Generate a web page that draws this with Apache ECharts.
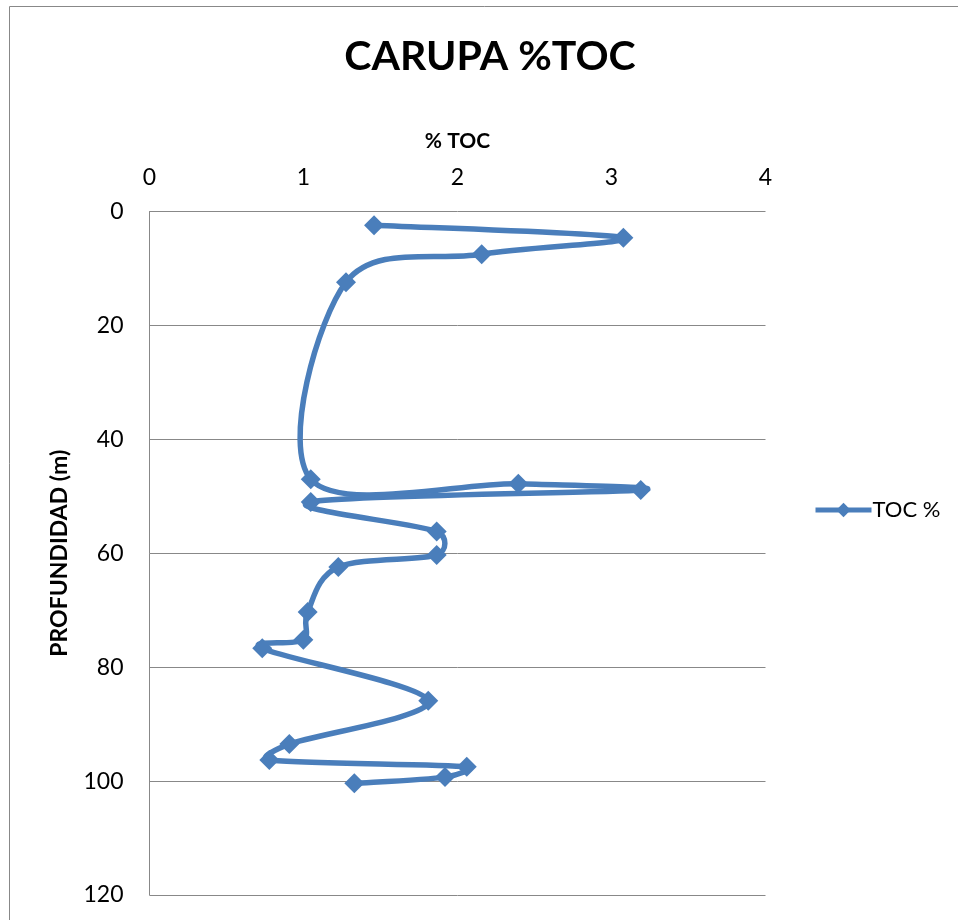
<!DOCTYPE html>
<html>
<head>
<meta charset="utf-8">
<script src="https://cdn.jsdelivr.net/npm/echarts@6/dist/echarts.min.js"></script>
<style>
html,body{margin:0;padding:0;background:#fff;}
#chart{width:958px;height:920px;}
</style>
</head>
<body>
<div id="chart"></div>
<script>
const seriesName = 'TOC %';
const tocValues = [1.458, 3.077, 2.157, 1.276, 1.047, 2.395, 3.19, 1.047, 1.865, 1.865, 1.226, 1.027, 0.999, 0.732, 1.81, 0.908, 0.778, 2.06, 1.919, 1.33];
const depthValues = [2.4, 4.6, 7.5, 12.4, 47.0, 47.8, 48.9, 51.0, 56.2, 60.3, 62.4, 70.3, 75.2, 76.7, 85.9, 93.5, 96.3, 97.5, 99.3, 100.4];
const xTicks = [0, 1, 2, 3, 4];
const yTicks = [0, 20, 40, 60, 80, 100, 120];

const FONT = 'Lato';
const COLOR = '#4A7EBB';
const chart = echarts.init(document.getElementById('chart'), null, {renderer: 'canvas'});
const data = tocValues.map((v, i) => [v, depthValues[i]]);
const n = data.length;

// Excel-style smoothed segment (Catmull-Rom Bezier with arm limiting), computed in pixel space
function renderSegment(params, api) {
  const i = params.dataIndex;
  if (i >= n - 1) return null;
  const P = k => api.coord(data[Math.max(0, Math.min(n - 1, k))]);
  const p0 = P(i - 1), p1 = P(i), p2 = P(i + 1), p3 = P(i + 2);
  const dist = (a, b) => Math.hypot(a[0] - b[0], a[1] - b[1]);
  const d12 = dist(p1, p2);
  const d02 = dist(p0, p2);
  const d13 = dist(p1, p3);
  let f1 = 1 / 6, f2 = 1 / 6;
  if (d02 / 6 > d12 / 2 && d02 > 0) f1 = d12 / (2 * d02);
  if (d13 / 6 > d12 / 2 && d13 > 0) f2 = d12 / (2 * d13);
  const cp1 = [p1[0] + f1 * (p2[0] - p0[0]), p1[1] + f1 * (p2[1] - p0[1])];
  const cp2 = [p2[0] - f2 * (p3[0] - p1[0]), p2[1] - f2 * (p3[1] - p1[1])];
  return {
    type: 'bezierCurve',
    shape: {x1: p1[0], y1: p1[1], x2: p2[0], y2: p2[1], cpx1: cp1[0], cpy1: cp1[1], cpx2: cp2[0], cpy2: cp2[1]},
    style: {fill: null, stroke: COLOR, lineWidth: 5.5, lineCap: 'round', lineJoin: 'round'},
    silent: true
  };
}

chart.setOption({
  animation: false,
  backgroundColor: '#ffffff',
  graphic: [{
    type: 'rect',
    shape: {x: 9.5, y: 6.5, width: 1000, height: 1000},
    style: {fill: 'none', stroke: '#888888', lineWidth: 1},
    silent: true
  }],
  title: {
    text: 'CARUPA %TOC',
    left: 485, top: 31, textAlign: 'center',
    textStyle: {fontFamily: FONT, fontWeight: 'bold', fontSize: 41, color: '#000'}
  },
  legend: {
    data: [seriesName],
    left: 808, top: 494,
    itemWidth: 56, itemHeight: 18,
    itemGap: 0,
    lineStyle: {color: COLOR, width: 5, opacity: 1, type: 'solid'},
    itemStyle: {color: COLOR, opacity: 1},
    textStyle: {fontFamily: FONT, fontSize: 22, color: '#000', padding: [0, 0, 0, -4]}
  },
  grid: {left: 149.5, top: 211.5, right: 192.5, bottom: 25, containLabel: false},
  xAxis: {
    type: 'value', position: 'top',
    min: xTicks[0], max: xTicks[xTicks.length - 1], interval: 1,
    name: '% TOC', nameLocation: 'middle', nameGap: 60,
    nameTextStyle: {fontFamily: FONT, fontWeight: 'bold', fontSize: 21, color: '#000'},
    axisLine: {show: false}, axisTick: {show: false},
    splitLine: {show: false},
    axisLabel: {fontFamily: FONT, fontSize: 23, color: '#000', margin: 22}
  },
  yAxis: {
    type: 'value', inverse: true,
    min: yTicks[0], max: yTicks[yTicks.length - 1], interval: 20,
    name: 'PROFUNDIDAD (m)', nameLocation: 'middle', nameGap: 78, nameRotate: 90,
    nameTextStyle: {fontFamily: FONT, fontWeight: 'bold', fontSize: 23, color: '#000'},
    axisLine: {show: true, lineStyle: {color: '#888888', width: 1}},
    axisTick: {show: false},
    splitLine: {show: true, lineStyle: {color: '#888888', width: 1}},
    axisLabel: {fontFamily: FONT, fontSize: 23, color: '#000', margin: 26}
  },
  series: [{
    name: seriesName,
    type: 'line',
    data: data,
    symbol: 'diamond',
    symbolSize: 20,
    showSymbol: true,
    lineStyle: {color: COLOR, width: 5, opacity: 0},
    itemStyle: {color: COLOR},
    z: 4
  }, {
    name: seriesName,
    type: 'custom',
    data: data,
    encode: {x: 0, y: 1},
    renderItem: renderSegment,
    clip: false,
    z: 3
  }]
});
</script>
</body>
</html>
